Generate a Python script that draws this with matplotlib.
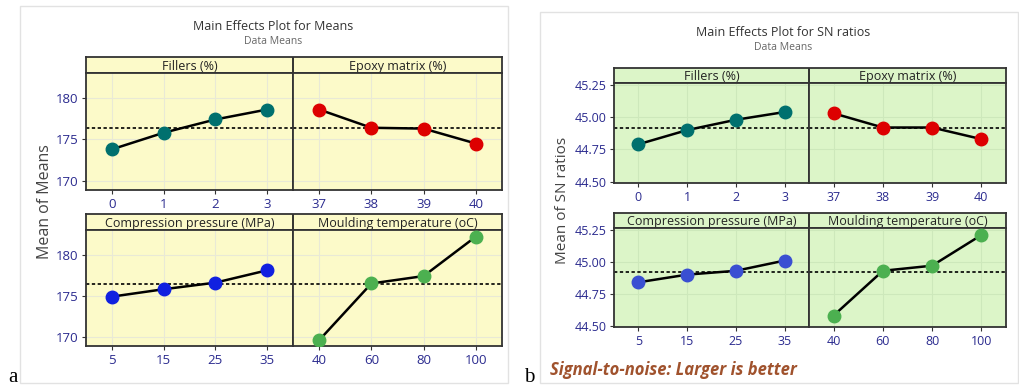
import matplotlib.pyplot as plt
from matplotlib.patches import Rectangle

W, H = 1020, 387

# Factor levels
fillers = ["0", "1", "2", "3"]
epoxy = ["37", "38", "39", "40"]
pressure = ["5", "15", "25", "35"]
temperature = ["40", "60", "80", "100"]

# Means (plot a)
means_fillers = [173.8, 175.8, 177.4, 178.6]
means_epoxy = [178.6, 176.4, 176.3, 174.5]
means_pressure = [174.9, 175.8, 176.6, 178.1]
means_temperature = [169.6, 176.5, 177.4, 182.2]
means_grand = 176.4

# SN ratios (plot b)
sn_fillers = [44.79, 44.90, 44.98, 45.04]
sn_epoxy = [45.03, 44.92, 44.92, 44.83]
sn_pressure = [44.84, 44.90, 44.93, 45.01]
sn_temperature = [44.58, 44.93, 44.97, 45.21]
sn_grand = 44.92

TICK_C = "#2b2b8f"
C_TEAL, C_RED = "#00706e", "#dd0000"


def px(x0, y0, x1, y1):
    return [x0 / W, 1 - y1 / H, (x1 - x0) / W, (y1 - y0) / H]


def draw_row(fig, box, strip_h, mid, levels, values, titles, colors, grand,
             ylim, yticks, yfmt, bg, tsize=9.5):
    x0, y0, x1, y1 = box
    strip = fig.add_axes(px(x0, y0, x1, y0 + strip_h))
    strip.set_facecolor(bg)
    strip.set_xlim(0, 1)
    strip.set_ylim(0, 1)
    strip.set_xticks([])
    strip.set_yticks([])
    split = (mid - x0) / (x1 - x0)
    strip.axvline(split, color="#222222", lw=1.3)
    for sp in strip.spines.values():
        sp.set_linewidth(1.3)
        sp.set_color("#333333")
    for t, cx in zip(titles, [split / 2, (1 + split) / 2]):
        strip.text(cx, 0.42, t, ha="center", va="center", fontsize=9,
                   color="#222222", family="Open Sans")

    for k, (bx0, bx1) in enumerate([(x0, mid), (mid, x1)]):
        ax = fig.add_axes(px(bx0, y0 + strip_h, bx1, y1))
        ax.set_facecolor(bg)
        xs = range(len(levels[k]))
        ax.plot(xs, values[k], color="black", lw=1.8, zorder=3)
        ax.plot(xs, values[k], "o", color=colors[k], ms=9, zorder=4)
        ax.axhline(grand, color="black", ls=(0, (2, 1.5)), lw=1.2, zorder=2)
        ax.set_xlim(-0.5, 3.5)
        ax.set_ylim(*ylim)
        ax.set_xticks(list(xs))
        ax.set_xticklabels(levels[k])
        ax.set_yticks(yticks)
        ax.grid(True, color="#e9e9d6" if bg.startswith("#fc") else "#cde8bb",
                lw=0.8, zorder=0)
        ax.tick_params(colors="#333333", labelcolor=TICK_C, labelsize=tsize,
                       length=3, pad=2.5)
        for lab in ax.get_xticklabels() + ax.get_yticklabels():
            lab.set_family("Open Sans")
        if k == 0:
            ax.set_yticklabels([yfmt.format(v) for v in yticks])
        else:
            ax.tick_params(axis="y", left=False, labelleft=False)
        for sp in ax.spines.values():
            sp.set_linewidth(1.3)
            sp.set_color("#333333")


fig = plt.figure(figsize=(W / 100, H / 100), dpi=100)

# outer boxes
fig.add_artist(Rectangle((20 / W, 1 - 383 / H), 488 / W, 377 / H,
                         transform=fig.transFigure, fill=False,
                         ec="#e2e2e2", lw=1))
fig.add_artist(Rectangle((540 / W, 1 - 383 / H), 478 / W, 371 / H,
                         transform=fig.transFigure, fill=False,
                         ec="#e2e2e2", lw=1))

# ---- (a) means ----
yb = "#fcfac9"
draw_row(fig, (86, 57, 502, 190), 16, 293, [fillers, epoxy],
         [means_fillers, means_epoxy], ["Fillers (%)", "Epoxy matrix (%)"],
         [C_TEAL, C_RED], means_grand, (168.9, 183.0), [170, 175, 180],
         "{:.0f}", yb)
draw_row(fig, (86, 214, 502, 346), 16, 293, [pressure, temperature],
         [means_pressure, means_temperature],
         ["Compression pressure (MPa)", "Moulding temperature (oC)"],
         ["#1020e0", "#4cb050"], means_grand, (168.9, 183.0),
         [170, 175, 180], "{:.0f}", yb)
fig.text(273 / W, 1 - 26 / H, "Main Effects Plot for Means", ha="center",
         va="center", fontsize=9, color="#333333", family="Open Sans")
fig.text(273 / W, 1 - 42 / H, "Data Means", ha="center", va="center",
         fontsize=7.5, color="#666666", family="Open Sans")
fig.text(45 / W, 1 - 202 / H, "Mean of Means", rotation=90, ha="center",
         va="center", fontsize=11.5, color="#444444", family="Open Sans")
fig.text(8 / W, 1 - 377 / H, "a", ha="left", va="center", fontsize=15,
         family="Liberation Serif")

# ---- (b) SN ratios ----
gb = "#dcf5c8"
draw_row(fig, (614, 68, 1006, 183), 15, 809, [fillers, epoxy],
         [sn_fillers, sn_epoxy], ["Fillers (%)", "Epoxy matrix (%)"],
         [C_TEAL, C_RED], sn_grand, (44.49, 45.265),
         [44.50, 44.75, 45.00, 45.25], "{:.2f}", gb, tsize=9)
draw_row(fig, (614, 213, 1006, 327), 15, 809, [pressure, temperature],
         [sn_pressure, sn_temperature],
         ["Compression pressure (MPa)", "Moulding temperature (oC)"],
         ["#3a4fd2", "#4cb050"], sn_grand, (44.49, 45.265),
         [44.50, 44.75, 45.00, 45.25], "{:.2f}", gb, tsize=9)
fig.text(783 / W, 1 - 32 / H, "Main Effects Plot for SN ratios", ha="center",
         va="center", fontsize=9, color="#333333", family="Open Sans")
fig.text(783 / W, 1 - 47 / H, "Data Means", ha="center", va="center",
         fontsize=7.5, color="#666666", family="Open Sans")
fig.text(562 / W, 1 - 200 / H, "Mean of SN ratios", rotation=90,
         ha="center", va="center", fontsize=11, color="#444444",
         family="Open Sans")
fig.text(550 / W, 1 - 370 / H, "Signal-to-noise: Larger is better",
         ha="left", va="center", fontsize=12, color="#a0522d",
         style="italic", weight="bold", family="Open Sans")
fig.text(524 / W, 1 - 378 / H, "b", ha="left", va="center", fontsize=15,
         family="Liberation Serif")

fig.savefig("out.png", dpi=100)
